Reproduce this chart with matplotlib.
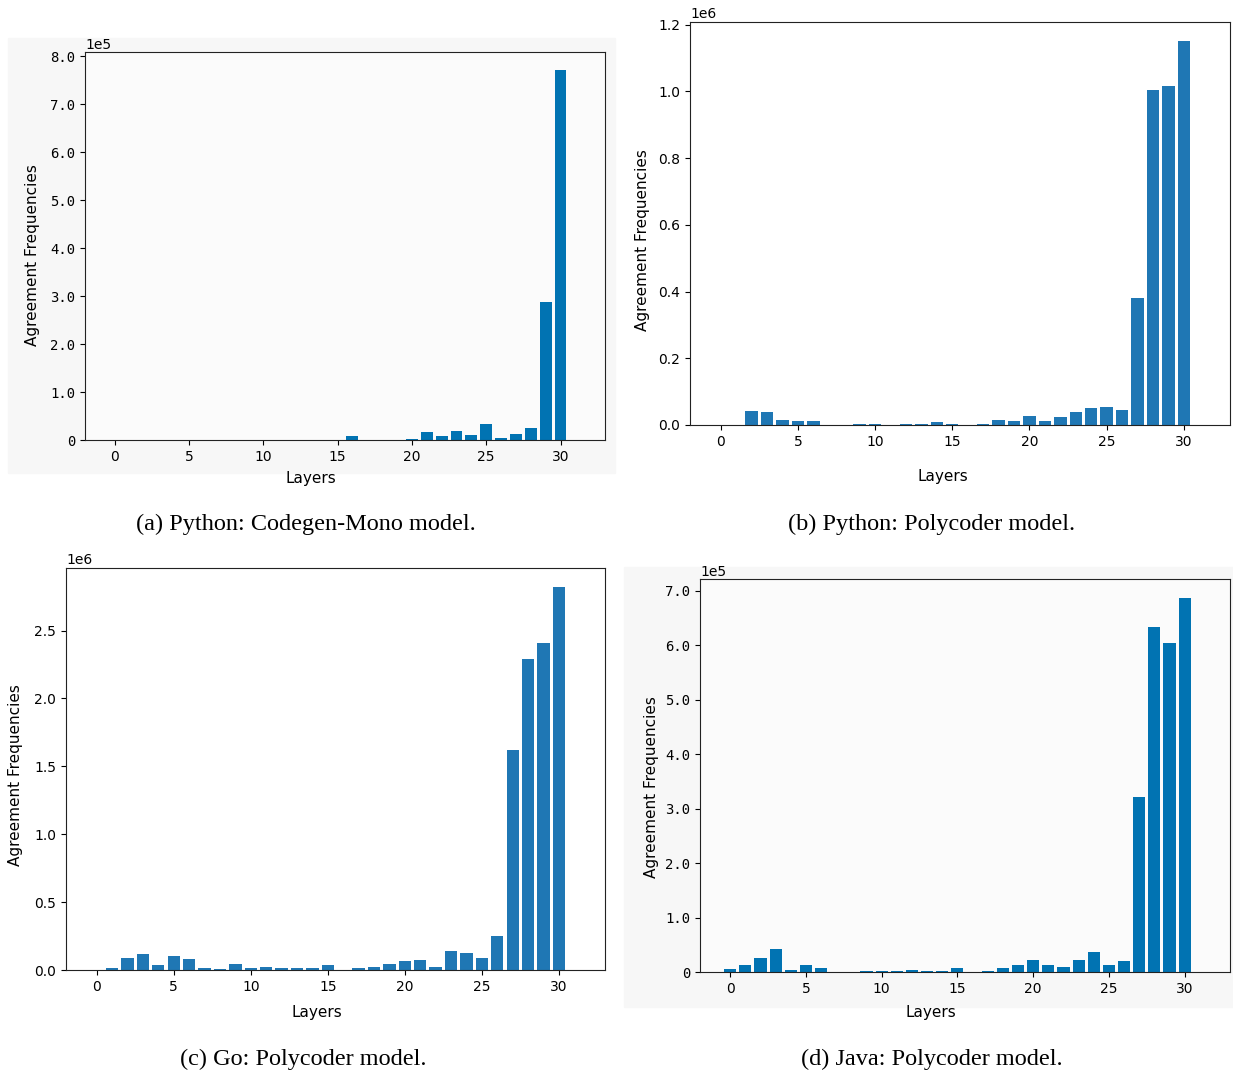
import matplotlib.pyplot as plt
from matplotlib.patches import Rectangle

layers = list(range(32))

# (a) Python: Codegen-Mono, values in units of 1e5
codegen_py = [0, 0, 0, 0, 0, 0, 0, 0, 0, 0, 0, 0, 0, 0, 0, 0,
              0.09, 0, 0, 0, 0.02, 0.16, 0.08, 0.18, 0.10, 0.33, 0.05, 0.12,
              0.26, 2.87, 7.70, 0]
# (b) Python: Polycoder, units of 1e6
poly_py = [0, 0, 0.043, 0.040, 0.015, 0.011, 0.011, 0, 0, 0.004, 0.004, 0,
           0.004, 0.004, 0.008, 0.004, 0, 0.004, 0.015, 0.011, 0.028, 0.011,
           0.024, 0.040, 0.050, 0.054, 0.044, 0.381, 1.003, 1.015, 1.150, 0]
# (c) Go: Polycoder, units of 1e6
poly_go = [0, 0.017, 0.088, 0.116, 0.034, 0.106, 0.081, 0.017, 0.010, 0.044,
           0.017, 0.025, 0.017, 0.017, 0.017, 0.034, 0, 0.017, 0.025, 0.044,
           0.066, 0.074, 0.025, 0.140, 0.125, 0.088, 0.251, 1.62, 2.29, 2.41,
           2.82, 0]
# (d) Java: Polycoder, units of 1e5
poly_java = [0.06, 0.12, 0.26, 0.42, 0.04, 0.12, 0.08, 0, 0, 0.02, 0.02, 0.02,
             0.04, 0.02, 0.02, 0.08, 0, 0.02, 0.08, 0.12, 0.22, 0.12, 0.10,
             0.22, 0.37, 0.12, 0.20, 3.22, 6.34, 6.03, 6.87, 0]

captions = ['(a) Python: Codegen-Mono model.', '(b) Python: Polycoder model.',
            '(c) Go: Polycoder model.', '(d) Java: Polycoder model.']

W, H = 1233, 1072
fig = plt.figure(figsize=(W / 100, H / 100), dpi=100)


def px_axes(l, r, t, b):
    return fig.add_axes([l / W, 1 - b / H, (r - l) / W, (b - t) / H])


# faint grey scan backgrounds behind (a) and (d)
for (l, r, t, b) in [(8, 615, 38, 473), (624, 1233, 567, 1007)]:
    fig.patches.append(Rectangle((l / W, 1 - b / H), (r - l) / W, (b - t) / H,
                                 transform=fig.transFigure, color='#f7f7f7',
                                 zorder=-10))

panels = [
    (codegen_py, 1e5, '#0173b2', (85, 605, 52, 440), True, (33, 255), (311, 479), 306),
    (poly_py, 1e6, '#1f77b4', (690, 1230, 22, 425), False, (643, 240), (943, 477), 932),
    (poly_go, 1e6, '#1f77b4', (66, 605, 568, 970), False, (16, 775), (317, 1012), 303),
    (poly_java, 1e5, '#0173b2', (700, 1230, 579, 972), True, (652, 787), (931, 1013), 932),
]

for i, (vals, scale, col, box, mono, ylab, xlab, cap_x) in enumerate(panels):
    ax = px_axes(*box)
    heights = [v * scale for v in vals]
    ax.bar(layers, heights, color=col)
    ax.set_xticks([0, 5, 10, 15, 20, 25, 30])
    ax.tick_params(labelsize=10)
    if mono:
        ax.set_facecolor('#fbfbfb')
        top = int(max(vals))
        ticks = [k * scale for k in range(top + 2) if k <= max(vals) * 1.05]
        ax.set_yticks(ticks)
        ax.set_yticklabels(['0'] + ['%.1f' % k for k in range(1, len(ticks))],
                           family='DejaVu Sans Mono')
        ax.text(0, 1.0, '1e5', transform=ax.transAxes, fontsize=10,
                ha='left', va='bottom')
    for s in ax.spines.values():
        s.set_color('#222222')
    fig.text(ylab[0] / W, 1 - ylab[1] / H, 'Agreement Frequencies',
             rotation=90, ha='center', va='center', fontsize=11)
    fig.text(xlab[0] / W, 1 - xlab[1] / H, 'Layers', ha='center',
             va='center', fontsize=11)
    cap_y = 524 if i < 2 else 1059
    fig.text(cap_x / W, 1 - cap_y / H, captions[i], ha='center', va='center',
             fontsize=17.5, family='Liberation Serif')

fig.savefig('out.png', dpi=100)
